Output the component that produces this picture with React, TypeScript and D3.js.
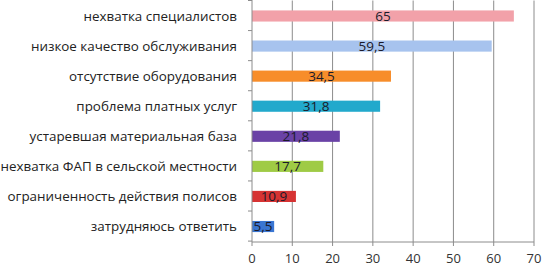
import React from "react";
import * as d3 from "d3";

const categories = [
  "нехватка специалистов",
  "низкое качество обслуживания",
  "отсутствие оборудования",
  "проблема платных услуг",
  "устаревшая материальная база",
  "нехватка ФАП в сельской местности",
  "ограниченность действия полисов",
  "затрудняюсь ответить",
];
const values = [65, 59.5, 34.5, 31.8, 21.8, 17.7, 10.9, 5.5];
const valueLabels = ["65", "59,5", "34,5", "31,8", "21,8", "17,7", "10,9", "5,5"];
const colors = ["#f2a1a9", "#a7c3ee", "#f78d2a", "#22a9cc", "#6a42a6", "#9fcb45", "#d63333", "#3a76d2"];
const xTicks = [0, 10, 20, 30, 40, 50, 60, 70];

export default function App() {
  const W = 543, H = 266;
  const left = 252, right = 534, top = 0.5, bottom = 242;
  const x = d3.scaleLinear().domain([0, 70]).range([left, right]);
  const y = d3.scaleBand<string>().domain(categories).range([top, bottom]).paddingInner(0.63).paddingOuter(0.33);
  const step = y.step();
  const font = "'Open Sans', sans-serif";
  const gridColor = "#8c8c8c";
  return (
    <svg width={W} height={H} style={{ position: "absolute", left: 0, top: 0, background: "#fff" }}>
      {xTicks.slice(1).map((t) => (
        <line key={t} x1={x(t)} x2={x(t)} y1={top} y2={bottom} stroke={gridColor} strokeWidth={1} />
      ))}
      {categories.map((c, i) => (
        <rect key={c} x={x(0)} y={y(c)} width={x(values[i]) - x(0)} height={y.bandwidth()} fill={colors[i]} />
      ))}
      {categories.map((c, i) => (
        <text key={"v" + c} x={(x(0) + x(values[i])) / 2} y={(y(c) as number) + y.bandwidth() / 2 + 4.8}
          textAnchor="middle" fontFamily={font} fontSize={13.5} fill="#1a1a2a">{valueLabels[i]}</text>
      ))}
      {/* y axis */}
      <line x1={left} x2={left} y1={top - 0.5} y2={bottom} stroke={gridColor} />
      {d3.range(categories.length + 1).map((i) => (
        <line key={"yt" + i} x1={left - 4} x2={left} y1={top + i * step} y2={top + i * step} stroke={gridColor} />
      ))}
      {/* x axis */}
      <line x1={left} x2={right} y1={bottom} y2={bottom} stroke={gridColor} />
      {xTicks.map((t) => (
        <line key={"xt" + t} x1={x(t)} x2={x(t)} y1={bottom} y2={bottom + 4} stroke={gridColor} />
      ))}
      {xTicks.map((t) => (
        <text key={"xl" + t} x={x(t)} y={262.5} textAnchor="middle" fontFamily={font} fontSize={13} fill="#333">{t}</text>
      ))}
      {categories.map((c) => (
        <text key={"c" + c} x={237} y={(y(c) as number) + y.bandwidth() / 2 + 4.8} textAnchor="end"
          fontFamily={font} fontSize={13.4} fill="#222">{c}</text>
      ))}
    </svg>
  );
}
